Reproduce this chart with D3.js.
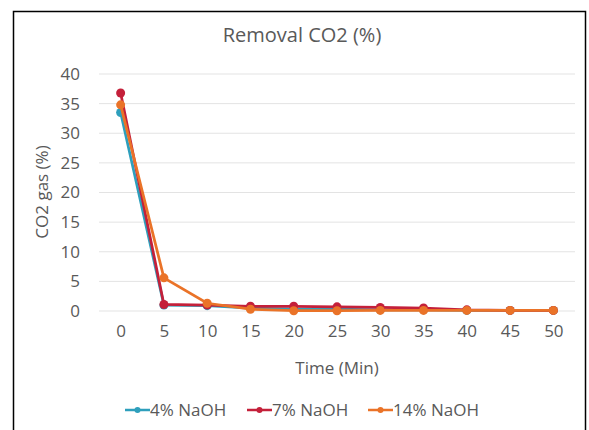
<!DOCTYPE html>
<html>
<head>
<meta charset="utf-8">
<script src="https://cdn.jsdelivr.net/npm/d3@7"></script>
<style>
  body { margin: 0; background: #fff; }
  text { font-family: "Open Sans", "DejaVu Sans", sans-serif; fill: #595959; }
</style>
</head>
<body>
<svg id="chart" width="589" height="430"></svg>
<script>
// data
var times = [0, 5, 10, 15, 20, 25, 30, 35, 40, 45, 50];
var naoh4 = [33.5, 1.0, 0.9, 0.5, 0.3, 0.3, 0.2, 0.2, 0.1, 0.1, 0.1];
var naoh7 = [36.8, 1.1, 1.0, 0.8, 0.8, 0.7, 0.6, 0.5, 0.2, 0.1, 0.1];
var naoh14 = [34.8, 5.6, 1.3, 0.3, 0.05, 0.05, 0.1, 0.1, 0.1, 0.1, 0.1];
var yTicks = [0, 5, 10, 15, 20, 25, 30, 35, 40];

var series = [
  { name: "4% NaOH", values: naoh4, color: "#2e9fbc" },
  { name: "7% NaOH", values: naoh7, color: "#c4203a" },
  { name: "14% NaOH", values: naoh14, color: "#ea7328" }
];

var svg = d3.select("#chart");

// outer frame
svg.append("rect")
  .attr("x", 13.5).attr("y", 11.5)
  .attr("width", 572).attr("height", 430)
  .attr("fill", "none").attr("stroke", "#000").attr("stroke-width", 1.5);

var x = d3.scalePoint()
  .domain(times)
  .range([99, 575])
  .padding(0.5);

var y = d3.scaleLinear()
  .domain([0, 40])
  .range([311, 74]);

// title
svg.append("text")
  .attr("x", 302).attr("y", 42)
  .attr("text-anchor", "middle")
  .style("font-size", "20px")
  .text("Removal CO2 (%)");

// grid
svg.append("g").selectAll("line")
  .data(yTicks)
  .join("line")
  .attr("x1", 99).attr("x2", 575)
  .attr("y1", d => y(d)).attr("y2", d => y(d))
  .attr("stroke", "#e3e3e3").attr("stroke-width", 1);

// y axis labels
var yAxis = d3.axisLeft(y).tickValues(yTicks).tickSize(0).tickPadding(0);
svg.append("g")
  .attr("transform", "translate(80,0)")
  .call(yAxis)
  .call(g => g.select(".domain").remove())
  .call(g => g.selectAll("text").style("font-size", "17px").attr("fill", "#595959")
    .style("font-family", '"Open Sans", sans-serif'));

// x axis labels
var xAxis = d3.axisBottom(x).tickSize(0).tickPadding(0);
svg.append("g")
  .attr("transform", "translate(0,325)")
  .call(xAxis)
  .call(g => g.select(".domain").remove())
  .call(g => g.selectAll("text").style("font-size", "17px").attr("fill", "#595959")
    .style("font-family", '"Open Sans", sans-serif'));

// axis titles
svg.append("text")
  .attr("transform", "translate(48,192) rotate(-90)")
  .attr("text-anchor", "middle")
  .style("font-size", "17px")
  .text("CO2 gas (%)");

svg.append("text")
  .attr("x", 337).attr("y", 374)
  .attr("text-anchor", "middle")
  .style("font-size", "17px")
  .text("Time (Min)");

// lines and markers
var line = d3.line()
  .x((d, i) => x(times[i]))
  .y(d => y(d));

series.forEach(function(s) {
  var g = svg.append("g");
  g.append("path")
    .datum(s.values)
    .attr("d", line)
    .attr("fill", "none")
    .attr("stroke", s.color)
    .attr("stroke-width", 2.75);
  g.selectAll("circle")
    .data(s.values)
    .join("circle")
    .attr("cx", (d, i) => x(times[i]))
    .attr("cy", d => y(d))
    .attr("r", 4.5)
    .attr("fill", s.color);
});

// legend
var legendX = [125, 247, 368];
var leg = svg.append("g").selectAll("g")
  .data(series)
  .join("g")
  .attr("transform", (d, i) => "translate(" + legendX[i] + ",410)");
leg.append("line")
  .attr("x1", 0).attr("x2", 25)
  .attr("stroke", d => d.color).attr("stroke-width", 2.5);
leg.append("circle")
  .attr("cx", 12.5).attr("r", 3)
  .attr("fill", d => d.color);
leg.append("text")
  .attr("x", 25).attr("dy", "0.35em")
  .style("font-size", "17px")
  .text(d => d.name);
</script>
</body>
</html>
